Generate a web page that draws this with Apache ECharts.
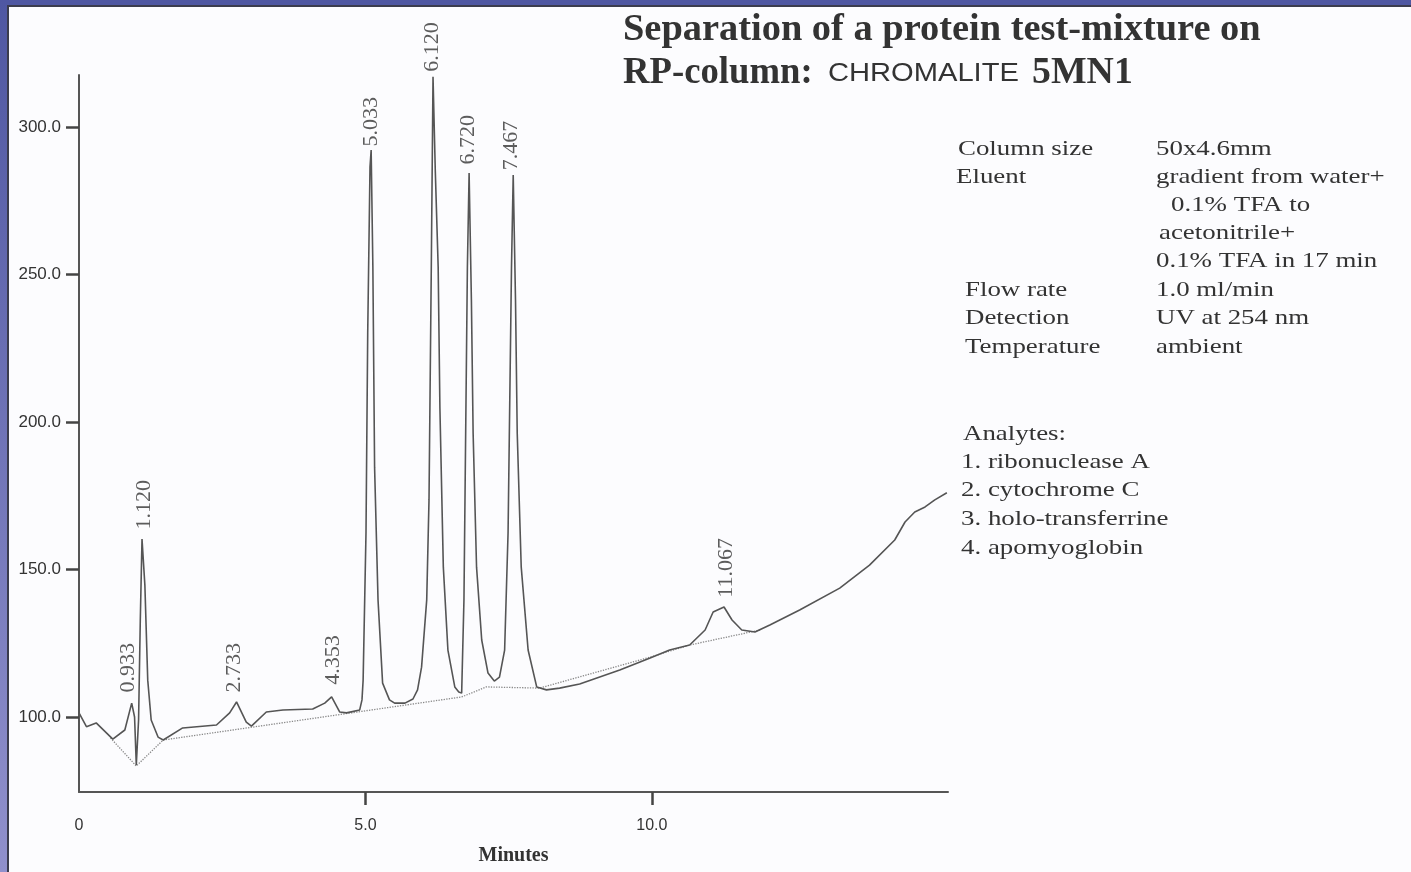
<!DOCTYPE html>
<html>
<head>
<meta charset="utf-8">
<title>Separation of a protein test-mixture on RP-column</title>
<script src="https://cdn.jsdelivr.net/npm/echarts@6/dist/echarts.min.js"></script>
<style>
  html, body { margin: 0; padding: 0; background: #fcfcfe; }
  #chart { width: 1411px; height: 872px; }
</style>
</head>
<body>
<div id="chart"></div>
<script>
// chromatogram trace (minutes / detector response)
const signalTime = [0.00, 0.13, 0.30, 0.59, 0.80, 0.92, 0.97, 1.00, 1.04, 1.07, 1.10, 1.15, 1.20, 1.26, 1.38, 1.47,
  1.81, 2.40, 2.63, 2.75, 2.92, 3.01, 3.27, 3.56, 4.08, 4.29, 4.41, 4.55, 4.67, 4.90,
  4.94, 4.96, 5.01, 5.04, 5.08, 5.10, 5.13, 5.16, 5.22, 5.30, 5.42, 5.51, 5.69, 5.83, 5.91,
  5.98, 6.07, 6.11, 6.15, 6.18, 6.22, 6.27, 6.30, 6.36, 6.44, 6.56, 6.63, 6.68,
  6.72, 6.75, 6.78, 6.81, 6.85, 6.88, 6.94, 7.03, 7.14, 7.25, 7.34,
  7.43, 7.49, 7.52, 7.55, 7.58, 7.62, 7.65, 7.72, 7.84, 7.99, 8.16, 8.39,
  8.74, 9.44, 9.97, 10.31, 10.66, 10.93, 11.07, 11.26, 11.40, 11.57, 11.80, 12.06,
  12.58, 13.28, 13.80, 14.24, 14.42, 14.59, 14.77, 14.94, 15.15];
const signalAbs = [101.4, 96.7, 98.0, 92.5, 95.6, 104.7, 100.0, 83.7, 99.0, 132.9, 160.3, 144.7, 112.5, 99.0, 93.2, 92.2,
  96.3, 97.3, 101.4, 105.1, 98.3, 96.9, 101.7, 102.4, 102.7, 104.7, 106.8, 101.7, 101.4, 102.4,
  105.8, 112.5, 162.4, 230.2, 286.4, 292.2, 252.5, 184.7, 139.7, 111.5, 105.8, 104.7, 104.7, 106.1, 109.2,
  116.9, 139.7, 173.6, 252.5, 317.0, 285.0, 252.5, 205.0, 150.8, 122.7, 110.2, 108.5, 108.1,
  139.7, 196.3, 252.5, 284.4, 241.4, 196.3, 150.8, 126.1, 114.9, 112.2, 113.5,
  122.7, 162.4, 207.5, 252.5, 283.7, 241.4, 196.3, 150.8, 122.7, 110.2, 109.2, 109.8,
  111.2, 115.9, 120.0, 122.7, 124.4, 129.5, 135.6, 137.3, 132.9, 129.5, 128.8, 131.2,
  136.3, 143.7, 151.5, 160.0, 166.1, 169.5, 171.2, 173.6, 176.0];

// integration baseline (dotted)
const baseTime = [0.55, 1.00, 1.47, 6.68, 7.11, 8.04, 9.97, 10.66, 11.89];
const baseAbs = [92.9, 83.4, 92.2, 106.8, 110.2, 109.8, 120.3, 124.4, 129.5];

// retention time labels
const peakLabels = ['0.933', '1.120', '2.733', '4.353', '5.033', '6.120', '6.720', '7.467', '11.067'];
const peakLabelTime = [0.857, 1.146, 2.709, 4.446, 5.093, 6.158, 6.787, 7.546, 11.29];
const peakLabelAbs = [108.1, 163.4, 108.1, 110.8, 293.2, 318.6, 287.1, 285.2, 140.3];

const xLabelValues = [0, 5, 10];
const xTickValues = [5, 10];
const yTickValues = [100, 150, 200, 250, 300];

const zip = (a, b) => a.map((v, i) => [v, b[i]]);

const serif = '"Liberation Serif", "Times New Roman", serif';
const sans = '"Liberation Sans", Arial, sans-serif';

// info block at right
const infoLeft = [
  ['Column size', 958, 149],
  ['Eluent', 956, 177],
  ['Flow rate', 965, 290],
  ['Detection', 965, 318],
  ['Temperature', 965, 347]
];
const infoRight = [
  ['50x4.6mm', 1156, 149],
  ['gradient from water+', 1156, 177],
  ['0.1% TFA to', 1171, 205],
  ['acetonitrile+', 1159, 233],
  ['0.1% TFA in 17 min', 1156, 261],
  ['1.0 ml/min', 1156, 290],
  ['UV at 254 nm', 1156, 318],
  ['ambient', 1156, 347]
];
const analytes = [
  ['Analytes:', 963, 434],
  ['1. ribonuclease A', 961, 462],
  ['2. cytochrome C', 961, 490],
  ['3. holo-transferrine', 961, 519],
  ['4. apomyoglobin', 961, 548]
];

function textEl(t, x, y, font, sx, sy) {
  return {
    type: 'text', x: x, y: y, scaleX: sx || 1, scaleY: sy || 1,
    style: { text: t, font: font, fill: '#333', align: 'left', verticalAlign: 'middle' }
  };
}

const graphics = [
  // frame
  { type: 'rect', shape: { x: 0, y: 0, width: 1411, height: 5 }, style: { fill: '#4f57a2' } },
  { type: 'rect', shape: { x: 0, y: 5, width: 1411, height: 2 }, style: { fill: '#3b3c4e' } },
  {
    type: 'rect', shape: { x: 0, y: 0, width: 7, height: 872 },
    style: {
      fill: new echarts.graphic.LinearGradient(0, 0, 0, 1, [
        { offset: 0, color: '#4f57a2' }, { offset: 1, color: '#9090cc' }
      ])
    }
  },
  { type: 'rect', shape: { x: 7, y: 5, width: 2, height: 867 }, style: { fill: '#3b3c4e' } },
  // title
  textEl('Separation of a protein test-mixture on', 623, 30, 'bold 36px ' + serif, 1.067, 1.08),
  textEl('RP-column:', 623, 73, 'bold 36px ' + serif, 1.02, 1.08),
  textEl('CHROMALITE', 828, 74, '26px ' + sans, 1.12, 1),
  textEl('5MN1', 1032, 73, 'bold 36px ' + serif, 1.05, 1.08)
];
infoLeft.concat(infoRight, analytes).forEach(r => {
  graphics.push(textEl(r[0], r[1], r[2], '21px ' + serif, 1.28, 1));
});

const chart = echarts.init(document.getElementById('chart'));
chart.setOption({
  animation: false,
  backgroundColor: '#fcfcfe',
  grid: { left: 79, right: 463, top: 75, bottom: 80, outerBoundsMode: 'none' },
  xAxis: {
    type: 'value', min: 0, max: 15.17,
    name: 'Minutes', nameLocation: 'middle', nameGap: 54,
    nameTextStyle: { fontFamily: serif, fontWeight: 'bold', fontSize: 20, color: '#333' },
    axisLine: { show: true, lineStyle: { color: '#555', width: 2 } },
    axisTick: { show: true, customValues: xTickValues, length: 13, lineStyle: { color: '#444', width: 2.5 } },
    axisLabel: {
      customValues: xLabelValues, margin: 26, fontFamily: sans, fontSize: 16, color: '#333',
      formatter: v => (v === 0 ? '0' : v.toFixed(1))
    },
    splitLine: { show: false }
  },
  yAxis: {
    type: 'value', min: 74.58, max: 317.63,
    axisLine: { show: true, lineStyle: { color: '#555', width: 2 } },
    axisTick: { show: true, customValues: yTickValues, length: 13, lineStyle: { color: '#444', width: 2.5 } },
    axisLabel: {
      customValues: yTickValues, margin: 18, fontFamily: sans, fontSize: 17, color: '#333',
      formatter: v => v.toFixed(1)
    },
    splitLine: { show: false }
  },
  graphic: graphics,
  series: [
    {
      type: 'line', data: zip(signalTime, signalAbs), symbol: 'none', z: 3,
      lineStyle: { color: '#555', width: 1.6 }
    },
    {
      type: 'line', data: zip(baseTime, baseAbs), symbol: 'none', z: 2,
      lineStyle: { color: '#888', width: 1.3, type: 'dotted' }
    },
    {
      type: 'scatter', clip: false, symbolSize: 1, z: 4,
      itemStyle: { color: 'rgba(0,0,0,0)' },
      data: peakLabels.map((s, i) => ({ name: s, value: [peakLabelTime[i], peakLabelAbs[i]] })),
      label: {
        show: true, formatter: '{b}', position: 'top', distance: 0, rotate: 90,
        align: 'left', verticalAlign: 'middle',
        fontFamily: serif, fontSize: 22, color: '#333'
      }
    }
  ]
});
</script>
</body>
</html>
